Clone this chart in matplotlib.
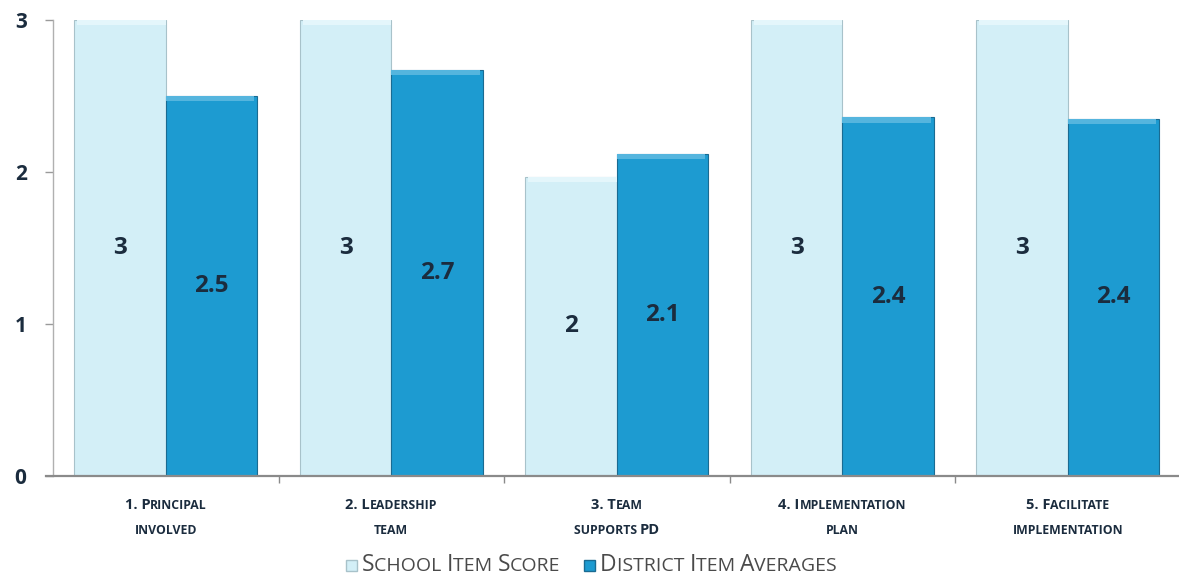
import numpy as np
import matplotlib
matplotlib.use("Agg")
import matplotlib.pyplot as plt
from matplotlib.transforms import IdentityTransform
from matplotlib.patches import Rectangle

# ── data ──────────────────────────────────────────────────────────────────────
categories = [
    [[("1. P", "big"), ("RINCIPAL", "small")], [("INVOLVED", "small")]],
    [[("2. L", "big"), ("EADERSHIP", "small")], [("TEAM", "small")]],
    [[("3. T", "big"), ("EAM", "small")], [("SUPPORTS ", "small"), ("PD", "big")]],
    [[("4. I", "big"), ("MPLEMENTATION", "small")], [("PLAN", "small")]],
    [[("5. F", "big"), ("ACILITATE", "small")], [("IMPLEMENTATION", "small")]],
]
school = [3, 3, 1.97, 3, 3]
district = [2.5, 2.67, 2.12, 2.36, 2.35]
yticks = [0, 1, 2, 3]
legend_labels = [
    [("S", "big"), ("CHOOL ", "small"), ("I", "big"), ("TEM ", "small"), ("S", "big"), ("CORE", "small")],
    [("D", "big"), ("ISTRICT ", "small"), ("I", "big"), ("TEM ", "small"), ("A", "big"), ("VERAGES", "small")],
]

LIGHT, LIGHT_EDGE = "#d3eff7", "#a8c2ca"
DARK, DARK_EDGE = "#1d9bd1", "#1a6b92"
TXT = "#1b2c3e"
FONT = "Open Sans"

W, H = 1179, 575
fig = plt.figure(figsize=(W / 100, H / 100), dpi=100)
ax = fig.add_axes([53 / W, 1 - 476 / H, 1127.5 / W, 456 / H])

x = np.arange(len(school))
bw = 0.405
ax.bar(x, school, width=-bw, align="edge", color=LIGHT, edgecolor=LIGHT_EDGE, linewidth=0.8, zorder=2)
ax.bar(x, district, width=bw, align="edge", color=DARK, edgecolor=DARK_EDGE, linewidth=0.8, zorder=2)
# soft bevel at the top of the bars
ax.bar(x, 0.035, bottom=np.array(school) - 0.035, width=-bw * 0.97, align="edge", color="#e4f6fb", linewidth=0, zorder=3)
ax.bar(x, 0.035, bottom=np.array(district) - 0.035, width=bw * 0.97, align="edge", color="#55b5de", linewidth=0, zorder=3)

def fmt(v):
    s = f"{v:.1f}"
    return s[:-2] if s.endswith(".0") else s

for xi, s, d in zip(x, school, district):
    ax.text(xi - bw / 2, s / 2, fmt(s), ha="center", va="center", fontsize=17.5,
            fontweight="bold", color=TXT, family=FONT, zorder=4)
    ax.text(xi + bw / 2, d / 2, fmt(d), ha="center", va="center", fontsize=17.5,
            fontweight="bold", color=TXT, family=FONT, zorder=4)

ax.set_xlim(-0.5, len(school) - 0.5)
ax.set_ylim(0, 3)
ax.set_yticks(yticks)
ax.set_yticklabels([str(t) for t in yticks], fontsize=15, fontweight="bold", color=TXT, family=FONT)
ax.tick_params(axis="y", length=6, color="#9a9a9a", width=1, pad=13)
ax.set_xticks(np.arange(len(school) - 1) + 0.5)
ax.set_xticklabels([])
ax.tick_params(axis="x", length=5, color="#8a8a8a", width=1)
for side in ["top", "right"]:
    ax.spines[side].set_visible(False)
ax.spines["left"].set_color("#b0b0b0")
ax.spines["left"].set_linewidth(1)
ax.spines["bottom"].set_color("#8a8a8a")
ax.spines["bottom"].set_linewidth(1.6)
ax.spines["bottom"].set_bounds(-0.53, len(school) - 0.5)

# ── small-caps text helper (display pixels) ───────────────────────────────────
renderer = fig.canvas.get_renderer()

def small_caps(pieces, cx, y, sizes, weight, color, ha="center"):
    objs = []
    for txt, kind in pieces:
        t = fig.text(0, 0, txt, fontsize=sizes[kind], fontweight=weight, color=color,
                     family=FONT, transform=IdentityTransform(), va="baseline")
        objs.append(t)
    widths = [t.get_window_extent(renderer).width for t in objs]
    start = cx - sum(widths) / 2 if ha == "center" else cx
    for t, w in zip(objs, widths):
        t.set_position((start, y))
        start += w
    return start

# category labels
for i, lines in enumerate(categories):
    cx_data = ax.transData.transform((x[i], 0))[0]
    for j, line in enumerate(lines):
        small_caps(line, cx_data, H - 509 - j * 25, {"big": 10.5, "small": 8.8}, "bold", TXT)

# legend
leg_y = H - 571
leg_x = [362, 600]
for lx, pieces, fc, ec in zip(leg_x, legend_labels, [LIGHT, DARK], [LIGHT_EDGE, DARK_EDGE]):
    fig.patches.append(Rectangle((lx - 16, leg_y), 11, 11, transform=IdentityTransform(),
                                 facecolor=fc, edgecolor=ec, linewidth=1))
    small_caps(pieces, lx, leg_y, {"big": 16.5, "small": 14}, "normal", "#4a4a4a", ha="left")

fig.savefig("out.png", dpi=100)
